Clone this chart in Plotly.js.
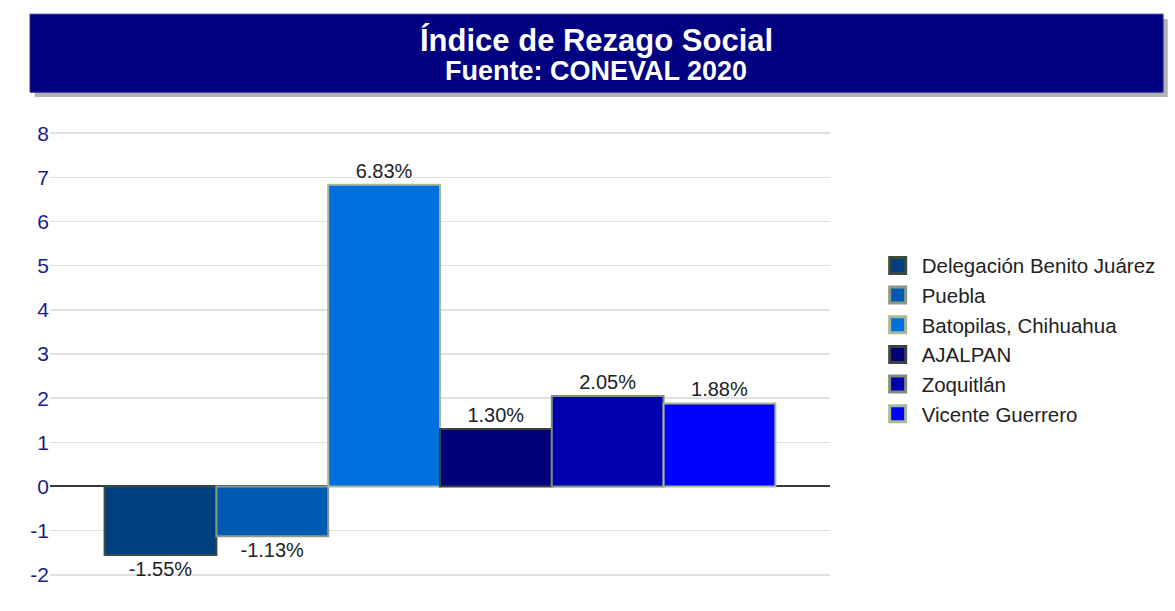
<!DOCTYPE html>
<html>
<head>
<meta charset="utf-8">
<script src="https://cdn.plot.ly/plotly-3.0.1.min.js"></script>
<style>html,body{margin:0;padding:0;background:#fff;}#chart{width:1175px;height:611px;}</style>
</head>
<body>
<div id="chart"></div>
<script>
const seriesNames = ["Delegación Benito Juárez", "Puebla", "Batopilas, Chihuahua", "AJALPAN", "Zoquitlán", "Vicente Guerrero"];
const seriesValues = [-1.55, -1.13, 6.83, 1.30, 2.05, 1.88];
const fillColors = ["#00407f", "#005ab4", "#006fde", "#000078", "#0000b0", "#0000ff"];
const lineColors = ["#3c4a44", "#8a9a84", "#a8b898", "#3a4244", "#7f8f7c", "#a8b898"];
const yTicks = [-2, -1, 0, 1, 2, 3, 4, 5, 6, 7, 8];
const titleText = "Índice de Rezago Social";
const subtitleText = "Fuente: CONEVAL 2020";

const FONT = "Liberation Sans, Arial, sans-serif";

const barTraces = seriesNames.map((name, i) => ({
  type: "bar",
  name: name,
  showlegend: false,
  x: [""],
  y: [seriesValues[i]],
  marker: {color: fillColors[i], line: {color: lineColors[i], width: 2}},
  text: [seriesValues[i].toFixed(2) + "%"],
  textposition: "outside",
  textfont: {family: FONT, size: 20, color: "#222"},
  cliponaxis: false,
  hoverinfo: "name+y"
}));

const legendTraces = seriesNames.map((name, i) => ({
  type: "scatter",
  mode: "markers",
  name: name,
  legendgroup: "g" + i,
  x: [null],
  y: [null],
  marker: {symbol: "square", size: 18, color: fillColors[i], line: {color: lineColors[i], width: 3}},
  hoverinfo: "skip"
}));

const layout = {
  width: 1175, height: 611,
  margin: {l: 50, r: 345, t: 131, b: 34},
  paper_bgcolor: "#fff", plot_bgcolor: "#fff",
  barmode: "group",
  bargap: 0.14,
  bargroupgap: 0,
  font: {family: FONT},
  xaxis: {type: "category", showticklabels: false, showgrid: false, zeroline: false, showline: false, ticks: ""},
  yaxis: {
    range: [-2.05, 8.05], tickvals: yTicks, ticktext: yTicks.map(String),
    tickfont: {size: 21, color: "#1c1c8c"},
    showgrid: true, gridcolor: "#e0e0e0", gridwidth: 1.5,
    zeroline: true, zerolinecolor: "#3a3a3a", zerolinewidth: 2,
    showline: false, ticks: "", ticklen: 0
  },
  legend: {
    x: 1.056, y: 0.743, xanchor: "left", yanchor: "top",
    font: {size: 20.5, color: "#222"},
    traceorder: "grouped", itemwidth: 38,
    tracegroupgap: 0, itemclick: false, itemsizing: "trace"
  },
  showlegend: true,
  annotations: [
    {text: "<b>" + titleText + "</b>", xref: "paper", yref: "paper", x: 0.70, y: 1.204,
     xanchor: "center", yanchor: "middle", showarrow: false,
     font: {size: 31, color: "#ffffff", family: FONT}},
    {text: "<b>" + subtitleText + "</b>", xref: "paper", yref: "paper", x: 0.70, y: 1.135,
     xanchor: "center", yanchor: "middle", showarrow: false,
     font: {size: 27, color: "#ffffff", family: FONT}}
  ],
  shapes: [
    {type: "rect", xref: "paper", yref: "paper", x0: -0.0195, x1: 1.433, y0: 1.076, y1: 1.251,
     fillcolor: "rgba(0,0,0,0.3)", line: {width: 0}, layer: "below"},
    {type: "rect", xref: "paper", yref: "paper", x0: -0.0256, x1: 1.427, y0: 1.087, y1: 1.262,
     fillcolor: "#000080", line: {color: "#2a2a90", width: 1}, layer: "below"}
  ]
};

Plotly.newPlot("chart", barTraces.concat(legendTraces), layout, {displayModeBar: false, staticPlot: true});
</script>
</body>
</html>
